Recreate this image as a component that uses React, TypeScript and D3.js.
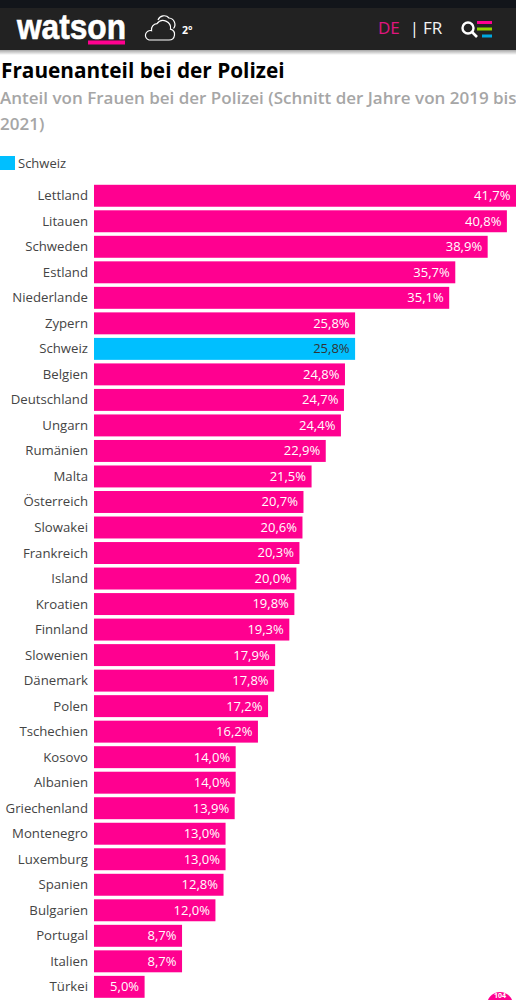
import React from "react";
import * as d3 from "d3";

const countries = ["Lettland","Litauen","Schweden","Estland","Niederlande","Zypern","Schweiz","Belgien","Deutschland","Ungarn","Rumänien","Malta","Österreich","Slowakei","Frankreich","Island","Kroatien","Finnland","Slowenien","Dänemark","Polen","Tschechien","Kosovo","Albanien","Griechenland","Montenegro","Luxemburg","Spanien","Bulgarien","Portugal","Italien","Türkei"];
const shares = [41.7,40.8,38.9,35.7,35.1,25.8,25.8,24.8,24.7,24.4,22.9,21.5,20.7,20.6,20.3,20.0,19.8,19.3,17.9,17.8,17.2,16.2,14.0,14.0,13.9,13.0,13.0,12.8,12.0,8.7,8.7,5.0];
const highlighted = "Schweiz";
const title = "Frauenanteil bei der Polizei";
const subtitleLines = ["Anteil von Frauen bei der Polizei (Schnitt der Jahre von 2019 bis", "2021)"];

const PINK = "#ff0090";
const BLUE = "#00bfff";
const FONT = "'Open Sans', sans-serif";

export default function App() {
  const x = d3.scaleLinear().domain([0, 41.7]).range([94, 516]);
  const y = d3.scaleBand<string>().domain(countries).range([183, 999.6]).paddingInner(0.14).paddingOuter(0.07);
  const fmt = (v: number) => v.toFixed(1).replace(".", ",") + "%";
  return (
    <svg width={516} height={1000} viewBox="0 0 516 1000" style={{ position: "absolute", left: 0, top: 0, background: "#fff" }} fontFamily={FONT}>
      <defs>
        <linearGradient id="sh" x1="0" x2="0" y1="0" y2="1">
          <stop offset="0" stopColor="#000" stopOpacity={0.35} />
          <stop offset="1" stopColor="#000" stopOpacity={0} />
        </linearGradient>
      </defs>
      <rect x={0} y={50} width={516} height={5} fill="url(#sh)" />
      <rect x={0} y={0} width={516} height={8} fill="#12151a" />
      <rect x={0} y={8} width={516} height={42} fill="#222222" />
      <text x={17} y={39} fill="#fff" stroke="#fff" strokeWidth={0.6} fontFamily="'Liberation Sans', sans-serif" fontWeight={700} fontSize={35} textLength={109} lengthAdjust="spacingAndGlyphs">watson</text>
      <rect x={88} y={40.5} width={37} height={4} fill={PINK} />
      <g fill="none" stroke="#fff" strokeWidth={1.2}>
        <path d="M149 40 h20 a5.5 5.5 0 0 0 1.5 -10.8 a7.5 7.5 0 0 0 -13.5 -5.5 a6 6 0 0 0 -5.5 7 a4.6 4.6 0 0 0 -2.5 9.3z" />
        <path d="M158 20 a6.5 6.5 0 0 1 11 -2 a6.5 6.5 0 0 1 4.5 10.5" />
      </g>
      <text x={182} y={34} fill="#fff" fontSize={10.5} fontWeight={700}>2°</text>
      <text x={378} y={34} fill="#e0157f" fontSize={17}>DE</text>
      <text x={410} y={34} fill="#fff" fontSize={16}>|</text>
      <text x={423} y={34} fill="#f2f2f2" fontSize={17}>FR</text>
      <circle cx={468} cy={28} r={5.5} fill="none" stroke="#fff" strokeWidth={2.4} />
      <line x1={472} y1={32} x2={477} y2={37} stroke="#fff" strokeWidth={2.6} />
      <rect x={477} y={21} width={15} height={3} fill={PINK} />
      <rect x={477} y={27.5} width={15} height={3} fill="#8fd400" />
      <rect x={482} y={34.5} width={10} height={3} fill="#00a8e0" />

      <text x={1} y={78} fontSize={20.8} fontWeight={700} fill="#000">{title}</text>
      {subtitleLines.map((l, i) => (
        <text key={i} x={0} y={104 + i * 25.5} fontSize={17} fontWeight={600} fill="#a6a6a6">{l}</text>
      ))}
      <rect x={0} y={156} width={15} height={14} fill={BLUE} />
      <text x={18} y={168} fontSize={13} fontWeight={500} fill="#444">{highlighted}</text>

      {countries.map((c, i) => {
        const by = y(c)!;
        const bh = y.bandwidth();
        const v = shares[i];
        const isH = c === highlighted;
        return (
          <g key={c}>
            <text x={88} y={by + bh / 2} dy="0.34em" textAnchor="end" fontSize={13.2} fontWeight={500} fill="#444">{c}</text>
            <rect x={x(0)} y={by} width={x(v) - x(0)} height={bh} fill={isH ? BLUE : PINK} />
            <text x={x(v) - 5.5} y={by + bh / 2} dy="0.34em" textAnchor="end" fontSize={13} fontWeight={500} fill={isH ? "#333" : "#fff"}>{fmt(v)}</text>
          </g>
        );
      })}

      <circle cx={500} cy={1005} r={13} fill={PINK} />
      <text x={500} y={998} textAnchor="middle" fontSize={7} fontWeight={700} fill="#fff">104</text>
    </svg>
  );
}
